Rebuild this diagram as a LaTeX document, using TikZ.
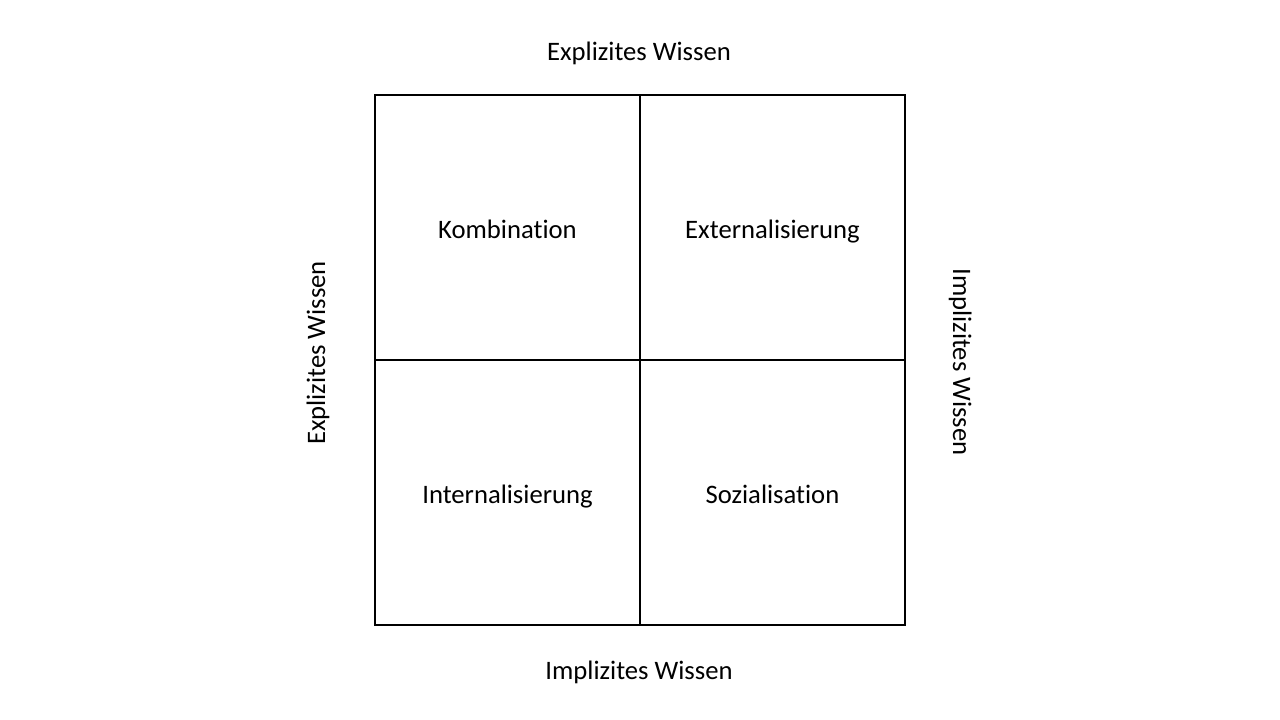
\documentclass[tikz,border=0pt]{standalone}
\usepackage{fontspec}
\setmainfont[Ligatures=NoCommon]{Carlito}
\begin{document}
\begin{tikzpicture}[x=0.75pt,y=-0.75pt,
  every node/.style={font=\fontsize{20}{24}\selectfont,anchor=base,inner sep=0pt},
  gridline/.style={draw=black,line width=1.5pt}]
\pgfmathsetmacro\cell{265}
\pgfmathsetmacro\xo{375}
\pgfmathsetmacro\yo{95}
\useasboundingbox (0,0) rectangle (1280,720);
\draw[gridline] (\xo,\yo) rectangle (\xo+2*\cell,\yo+2*\cell);
\draw[gridline] (\xo+\cell,\yo) -- (\xo+\cell,\yo+2*\cell);
\draw[gridline] (\xo,\yo+\cell) -- (\xo+2*\cell,\yo+\cell);
\foreach \name/\i/\j/\txt in {komb/0/0/Kombination, ext/1/0/Externalisierung, int/0/1/Internalisierung, soz/1/1/Sozialisation}
  \node (\name) at (\xo+\cell*\i+\cell/2,\yo+\cell*\j+\cell/2+11) {\txt};
\node (top) at (639,61) {Explizites Wissen};
\node (bottom) at (639,679) {Implizites Wissen};
\node[rotate=90] (left) at (325,353) {Explizites Wissen};
\node[rotate=-90] (right) at (953,362) {Implizites Wissen};
\end{tikzpicture}
\end{document}
